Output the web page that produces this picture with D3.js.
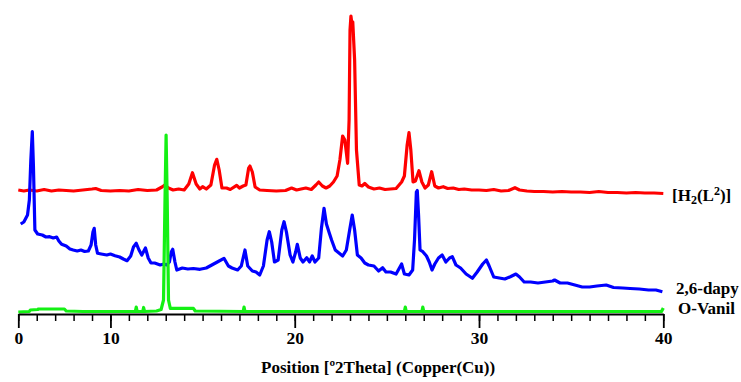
<!DOCTYPE html>
<html><head><meta charset="utf-8">
<script src="https://cdn.jsdelivr.net/npm/d3@7"></script>
<style>body{margin:0;background:#fff}svg{display:block}
.serif{font-family:'Liberation Serif','Times New Roman',serif;font-weight:bold;}
</style>
</head><body><svg id="c" width="741" height="382"></svg>
<script>
// ---- data: [2theta, counts] ----
const h2l2 = [[5.0,40],[5.3,30],[5.6,40],[6.0,30],[6.4,45],[6.8,30],[7.2,40],[7.6,35],[8.0,30],[8.5,40],[9.0,50],[9.2,55],[9.5,35],[10.0,30],[10.5,35],[11.0,30],[11.5,45],[12.0,35],[12.5,40],[12.8,70],[12.95,90],[13.15,60],[13.4,40],[13.7,50],[14.0,40],[14.25,100],[14.45,213],[14.65,100],[14.85,50],[15.0,73],[15.2,50],[15.45,90],[15.65,290],[15.77,347],[15.9,240],[16.05,60],[16.3,60],[16.5,45],[16.85,87],[17.0,60],[17.2,80],[17.35,90],[17.5,260],[17.57,280],[17.7,220],[17.85,70],[18.1,40],[18.5,35],[19.0,30],[19.5,35],[19.83,60],[20.1,40],[20.6,60],[20.9,45],[21.15,90],[21.3,120],[21.5,80],[21.7,60],[21.9,80],[22.1,120],[22.3,180],[22.45,340],[22.6,580],[22.72,540],[22.87,307],[22.95,740],[23.0,1640],[23.05,1780],[23.1,1700],[23.15,1720],[23.25,1340],[23.35,440],[23.5,90],[23.65,80],[23.8,105],[24.0,70],[24.3,50],[24.6,60],[24.9,45],[25.2,50],[25.5,55],[25.8,120],[25.95,180],[26.1,490],[26.2,613],[26.3,440],[26.42,120],[26.55,130],[26.74,233],[26.9,120],[27.07,60],[27.25,90],[27.43,223],[27.6,80],[27.8,60],[28.06,73],[28.3,55],[28.6,60],[28.9,45],[29.2,50],[29.6,40],[30.0,40],[30.4,35],[30.8,45],[31.2,30],[31.6,35],[31.95,63],[32.2,40],[32.6,30],[33.0,25],[33.5,25],[34.0,20],[34.5,25],[35.0,20],[35.5,20],[36.0,15],[36.5,25],[37.0,15],[37.5,15],[38.0,10],[38.5,15],[39.0,10],[39.5,10],[40.0,5]];

const dapy = [[5.13,700],[5.3,720],[5.5,790],[5.6,940],[5.68,1340],[5.76,1623],[5.82,1290],[5.9,640],[6.05,600],[6.3,590],[6.5,570],[6.7,573],[6.9,560],[7.08,570],[7.2,530],[7.35,497],[7.6,480],[7.8,450],[7.98,440],[8.2,430],[8.4,440],[8.6,425],[8.8,430],[8.95,490],[9.05,620],[9.12,657],[9.2,490],[9.3,407],[9.5,400],[9.8,390],[10.0,400],[10.25,383],[10.5,370],[10.7,350],[10.9,333],[11.1,380],[11.25,470],[11.4,507],[11.55,440],[11.7,390],[11.9,460],[12.05,360],[12.2,310],[12.4,310],[12.7,290],[12.9,300],[13.05,290],[13.2,320],[13.3,420],[13.38,447],[13.5,320],[13.6,240],[13.9,260],[14.2,250],[14.5,255],[14.86,247],[15.2,260],[15.6,300],[15.8,320],[16.16,357],[16.4,280],[16.6,260],[16.9,240],[17.1,280],[17.3,440],[17.45,280],[17.7,230],[17.9,220],[18.1,190],[18.3,280],[18.5,540],[18.62,623],[18.75,520],[18.9,320],[19.1,340],[19.3,640],[19.42,723],[19.55,620],[19.75,390],[19.9,320],[20.05,420],[20.14,497],[20.3,360],[20.45,320],[20.65,363],[20.8,320],[20.95,380],[21.1,320],[21.3,360],[21.45,660],[21.59,857],[21.72,700],[21.88,607],[22.0,540],[22.2,440],[22.4,410],[22.6,380],[22.8,440],[22.98,640],[23.12,790],[23.25,640],[23.4,390],[23.6,360],[23.8,310],[24.0,290],[24.3,280],[24.55,230],[24.77,263],[24.95,220],[25.2,220],[25.5,200],[25.8,300],[25.95,200],[26.2,190],[26.4,240],[26.5,540],[26.6,1020],[26.65,1035],[26.72,790],[26.8,440],[26.95,423],[27.15,380],[27.3,320],[27.45,240],[27.6,300],[27.8,360],[28.0,390],[28.2,320],[28.4,360],[28.55,373],[28.75,290],[29.0,260],[29.3,200],[29.64,157],[29.9,220],[30.2,300],[30.4,340],[30.55,280],[30.8,170],[31.1,160],[31.4,150],[31.7,173],[32.0,200],[32.2,170],[32.45,120],[32.8,120],[33.2,110],[33.6,120],[34.0,130],[34.1,140],[34.4,110],[34.8,110],[35.2,90],[35.6,70],[36.0,70],[36.4,80],[36.9,90],[37.3,65],[37.8,60],[38.2,55],[38.7,50],[39.2,40],[39.6,40],[39.95,23]];

const ovanil = [[5.0,20],[5.6,25],[5.65,40],[6.05,45],[6.1,50],[7.5,50],[7.6,30],[8.5,25],[10.0,25],[11.35,25],[11.4,70],[11.45,25],[11.75,25],[11.8,65],[11.85,25],[12.5,30],[12.75,45],[12.88,140],[12.96,1140],[13.02,1790],[13.08,1140],[13.15,140],[13.25,55],[13.3,57],[14.5,57],[14.6,30],[17.2,25],[17.25,70],[17.3,25],[20.0,25],[25.95,25],[26.0,70],[26.05,25],[26.9,25],[26.95,70],[27.0,25],[30.0,25],[35.0,25],[39.9,25],[40.0,60]];

const seriesNames = ["[H2(L2)]", "2,6-dapy", "O-Vanil"];
const tickValues = [5, 10, 20, 30, 40];
const tickLabels = ["0", "10", "20", "30", "40"];
const axisTitle = "Position [\u00BA2Theta] (Copper(Cu))";

// ---- layout ----
const svg = d3.select("#c");
const x = d3.scaleLinear().domain([5, 40]).range([18.3, 663.3]);
const y = d3.scaleLinear().domain([0, 3000]).range([314, 14]);
const offsets = [1200, 200, 0];
const colors = ["#ff0000", "#0000ff", "#14f014"];
const series = [h2l2, dapy, ovanil];
const serifFont = "'Liberation Serif','Times New Roman',serif";

const line = off => d3.line().x(d => x(d[0])).y(d => y(d[1] + off));

series.forEach((s, i) => {
  svg.append("path").datum(s)
    .attr("d", line(offsets[i]))
    .attr("fill", "none")
    .attr("stroke", colors[i])
    .attr("stroke-width", 3.2)
    .attr("stroke-linejoin", "round");
});

// axes
const minor = svg.append("g").attr("transform", "translate(0,314)")
  .call(d3.axisBottom(x).tickValues(d3.range(5, 41)).tickSize(7).tickSizeOuter(0).tickFormat(""));
minor.select(".domain").attr("stroke-width", 2);
minor.selectAll(".tick line").attr("stroke-width", 1.5);

const major = svg.append("g").attr("transform", "translate(0,314)")
  .call(d3.axisBottom(x).tickValues(tickValues).tickSize(14).tickSizeOuter(0).tickPadding(4)
    .tickFormat((d, i) => tickLabels[i]));
major.select(".domain").remove();
major.selectAll(".tick line").attr("stroke-width", 1.8);
major.selectAll(".tick text")
  .style("font-family", serifFont).style("font-weight", "bold")
  .style("font-size", "17.5px").attr("fill", "#000");

// axis title
svg.append("text").attr("class", "serif").attr("x", 261).attr("y", 372.5)
  .style("font-size", "17px").attr("fill", "#000")
  .text(axisTitle);

// series labels
const labelY = series.map((s, i) => y(s[s.length - 1][1] + offsets[i]));
const labelDx = [672, 676, 678];
const labelDy = [7, 2, 6];
seriesNames.forEach((n, i) => {
  const tx = svg.append("text").attr("class", "serif")
    .attr("x", labelDx[i]).attr("y", labelY[i] + labelDy[i])
    .style("font-size", "17px").attr("fill", "#000");
  if (i === 0) {
    tx.append("tspan").text("[H");
    tx.append("tspan").style("font-size", "12px").attr("dy", 3).text("2");
    tx.append("tspan").attr("dy", -3).text("(L");
    tx.append("tspan").style("font-size", "12px").attr("dy", -6).text("2");
    tx.append("tspan").attr("dy", 6).text(")]");
  } else {
    tx.text(n);
  }
});
</script>
</body></html>
